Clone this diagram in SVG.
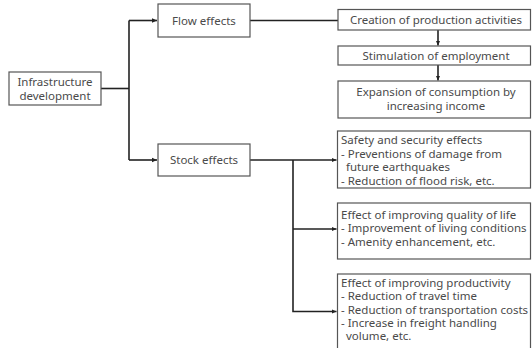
<svg xmlns="http://www.w3.org/2000/svg" width="532" height="348" viewBox="0 0 532 348">
<defs>
<marker id="ah" markerWidth="6" markerHeight="6" refX="5" refY="3" orient="auto" markerUnits="userSpaceOnUse">
<path d="M0,0.8 L5,3 L0,5.2 Z" fill="#222"/>
</marker>
<style>
.box{fill:#fff;stroke:#555;stroke-width:1.2}
.t{font-family:"Noto Sans","DejaVu Sans",sans-serif;font-size:11.5px;fill:#4a4a4a}
.c{text-anchor:middle}
.ln{fill:none;stroke:#222;stroke-width:1.6}
</style>
</defs>
<rect width="532" height="348" fill="#fff"/>
<g id="connectors">
<path class="ln" d="M101,88.5 H129"/>
<path class="ln" d="M129,20.5 V160"/>
<path class="ln" d="M129,20.5 H157" marker-end="url(#ah)"/>
<path class="ln" d="M129,160 H157" marker-end="url(#ah)"/>
<path class="ln" d="M250,20.5 H338"/>
<path class="ln" d="M438,30 V45.5" marker-end="url(#ah)"/>
<path class="ln" d="M438,65 V80.5" marker-end="url(#ah)"/>
<path class="ln" d="M250,160 H336.5" marker-end="url(#ah)"/>
<path class="ln" d="M293,160 V311.5 H336.5" marker-end="url(#ah)"/>
<path class="ln" d="M293,229 H336.5" marker-end="url(#ah)"/>
</g>
<g id="infra">
<rect class="box" x="9" y="72" width="92" height="33"/>
<text class="t c" x="55" y="86">Infrastructure</text>
<text class="t c" x="55" y="99.5">development</text>
</g>
<g id="flow">
<rect class="box" x="158" y="4" width="92" height="33"/>
<text class="t c" x="204" y="24.5">Flow effects</text>
</g>
<g id="stock">
<rect class="box" x="158" y="144" width="92" height="32"/>
<text class="t c" x="204" y="164">Stock effects</text>
</g>
<g id="creation">
<rect class="box" x="338" y="9.5" width="192.5" height="20.5"/>
<text class="t c" x="436" y="24">Creation of production activities</text>
</g>
<g id="stimulation">
<rect class="box" x="338" y="46" width="192.5" height="19"/>
<text class="t c" x="436" y="59.5">Stimulation of employment</text>
</g>
<g id="expansion">
<rect class="box" x="338" y="81" width="192.5" height="37"/>
<text class="t c" x="436" y="96">Expansion of consumption by</text>
<text class="t c" x="436" y="110">increasing income</text>
</g>
<g id="safety">
<rect class="box" x="337.5" y="131" width="193" height="57"/>
<text class="t" x="341" y="144">Safety and security effects</text>
<text class="t" x="341" y="157.5">- Preventions of damage from</text>
<text class="t" x="346" y="171">future earthquakes</text>
<text class="t" x="341" y="184.5">- Reduction of flood risk, etc.</text>
</g>
<g id="quality">
<rect class="box" x="337.5" y="203" width="193" height="56"/>
<text class="t" x="341" y="218.5">Effect of improving quality of life</text>
<text class="t" x="341" y="232">- Improvement of living conditions</text>
<text class="t" x="341" y="245.5">- Amenity enhancement, etc.</text>
</g>
<g id="productivity">
<rect class="box" x="337.5" y="274" width="193" height="80"/>
<text class="t" x="341" y="287">Effect of improving productivity</text>
<text class="t" x="341" y="300.3">- Reduction of travel time</text>
<text class="t" x="341" y="313.6">- Reduction of transportation costs</text>
<text class="t" x="341" y="326.9">- Increase in freight handling</text>
<text class="t" x="346" y="340.2">volume, etc.</text>
</g>
</svg>
